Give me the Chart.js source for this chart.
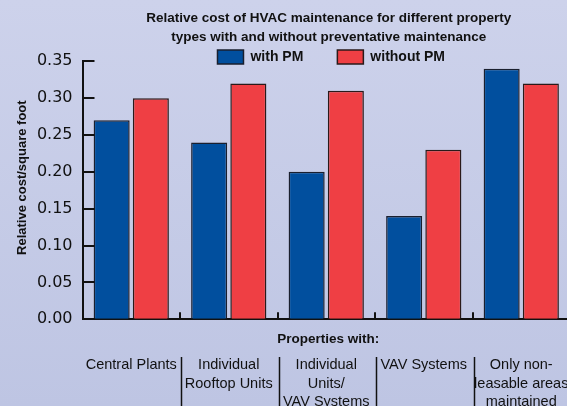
<!DOCTYPE html>
<html><head><meta charset="utf-8">
<script src="https://cdn.jsdelivr.net/npm/chart.js@4"></script>
<style>
html,body{margin:0;padding:0;overflow:hidden;width:567px;height:406px;background:linear-gradient(#cdd2eb,#bec5e3);}
canvas{display:block}
</style></head><body>
<canvas id="c" width="570" height="406" style="width:570px;height:406px"></canvas>
<script>
// ---- data ----
const categories = [
  'Central Plants',
  ['Individual', 'Rooftop Units'],
  ['Individual', 'Units/', 'VAV Systems'],
  'VAV Systems',
  ['Only non-', 'leasable areas', 'maintained']
];
const seriesLabels = ['with PM', 'without PM'];
const withPM = [0.27, 0.24, 0.20, 0.14, 0.34];
const withoutPM = [0.30, 0.32, 0.31, 0.23, 0.32];
const yTicks = [0.00, 0.05, 0.10, 0.15, 0.20, 0.25, 0.30, 0.35];
const titleLines = ['Relative cost of HVAC maintenance for different property', 'types with and without preventative maintenance'];
const xAxisTitle = 'Properties with:';
const yAxisTitle = 'Relative cost/square foot';

const INK = '#111';
const BOLD = 'Liberation Sans';

const decor = {
  id: 'decor',
  afterLayout(chart) {
    const lg = chart.legend;
    if (lg) {
      const shift = 50 - (lg.top + lg.options.labels.padding);
      lg.top += shift; lg.bottom += shift;
      lg.left += 5; lg.right += 5;
    }
    const tb = chart.titleBlock;
    if (tb) { tb.left += 2.5; tb.right += 2.5; }
  },
  afterDraw(chart) {
    const {ctx, chartArea: a, scales: {x, y}} = chart;
    ctx.save();
    ctx.strokeStyle = INK;
    ctx.lineWidth = 2;
    y.ticks.forEach(t => {
      const py = Math.round(y.getPixelForValue(t.value));
      ctx.beginPath(); ctx.moveTo(a.left, py); ctx.lineTo(a.left + 12, py); ctx.stroke();
    });
    for (let i = 0; i < categories.length - 1; i++) {
      const bx = Math.round((x.getPixelForValue(i) + x.getPixelForValue(i + 1)) / 2);
      ctx.lineWidth = 2;
      ctx.beginPath(); ctx.moveTo(bx, a.bottom - 7); ctx.lineTo(bx, a.bottom); ctx.stroke();
      ctx.lineWidth = 1.5;
      ctx.beginPath(); ctx.moveTo(bx + 1.5, 357); ctx.lineTo(bx + 1.5, 410); ctx.stroke();
    }
    ctx.fillStyle = INK;
    ctx.font = 'bold 13.5px ' + BOLD;
    ctx.textAlign = 'center';
    ctx.textBaseline = 'middle';
    ctx.fillText(xAxisTitle, (a.left + a.right) / 2 + 2, 339.5);
    ctx.restore();
  }
};

new Chart(document.getElementById('c'), {
  type: 'bar',
  data: {
    labels: categories,
    datasets: [
      {label: seriesLabels[0], data: withPM, backgroundColor: '#014f9e', borderColor: '#1a1f2e', borderWidth: 1.5, categoryPercentage: 0.804, barPercentage: 0.92},
      {label: seriesLabels[1], data: withoutPM, backgroundColor: '#ef3f44', borderColor: '#2a1a1a', borderWidth: 1.5, categoryPercentage: 0.804, barPercentage: 0.92}
    ]
  },
  options: {
    responsive: false,
    animation: false,
    devicePixelRatio: 1,
    layout: {autoPadding: false, padding: {top: -10, left: 0, right: 0, bottom: 0}},
    plugins: {
      title: {
        display: true, text: titleLines, fullSize: false, color: INK,
        font: {family: BOLD, size: 13.5, weight: 'bold', lineHeight: 19.5 / 13.5},
        padding: {top: 18.5, bottom: -44.2}
      },
      legend: {
        display: true, position: 'top', fullSize: false,
        labels: {boxWidth: 26, boxHeight: 14, padding: 34, color: INK, font: {family: BOLD, size: 14, weight: 'bold'}}
      },
      tooltip: {enabled: false}
    },
    scales: {
      x: {
        grid: {display: true, drawOnChartArea: false, drawTicks: false},
        border: {display: true, color: INK, width: 2},
        ticks: {color: INK, padding: 37, maxRotation: 0, minRotation: 0, autoSkip: false,
          font: {family: 'Liberation Sans', size: 14.5, lineHeight: 18.3 / 14.5}},
        afterFit: s => { s.height = 86.7; s.paddingLeft = 0; s.paddingRight = 0; }
      },
      y: {
        min: 0, max: 0.35,
        afterBuildTicks: s => { s.ticks = yTicks.map(v => ({value: v})); },
        grid: {display: true, drawOnChartArea: false, drawTicks: false},
        border: {display: true, color: INK, width: 2},
        ticks: {color: INK, padding: 10, font: {family: 'DejaVu Sans', size: 16}, callback: v => Number(v).toFixed(2)},
        title: {display: true, text: '       ' + yAxisTitle, color: INK, padding: {top: 15, bottom: 0},
          font: {family: BOLD, size: 13, weight: 'bold'}},
        afterFit: s => { s.width = 82.5; s.paddingTop = 0; s.paddingBottom = 0; }
      }
    }
  },
  plugins: [decor]
});
</script>
</body></html>
